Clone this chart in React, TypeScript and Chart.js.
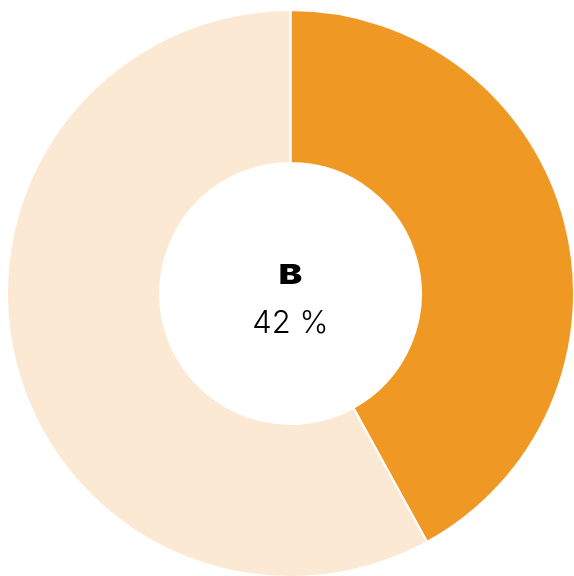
import React, { useEffect, useRef } from "react";
import { Chart, registerables } from "chart.js";

Chart.register(...registerables);

const labels = ["B", "Other"];
const values = [42, 58];
const colors = ["#F09824", "#FCE9D4"];
const centerTitle = "B";
const centerValue = "42 %";

export default function App() {
  const ref = useRef<HTMLCanvasElement | null>(null);
  useEffect(() => {
    if (!ref.current) return;
    const centerText = {
      id: "centerText",
      afterDraw(chart: any) {
        const { ctx } = chart;
        const meta = chart.getDatasetMeta(0);
        const arc = meta.data[0];
        const cx = arc.x;
        const cy = arc.y;
        ctx.save();
        ctx.fillStyle = "#000";
        ctx.textAlign = "center";
        ctx.textBaseline = "alphabetic";
        ctx.save();
        ctx.translate(cx, cy - 9.5);
        ctx.scale(1.3, 1);
        ctx.font = "900 27px Inter, 'DejaVu Sans', sans-serif";
        ctx.fillText(centerTitle, 0, 0);
        ctx.restore();
        ctx.font = "300 31px Inter, 'DejaVu Sans', sans-serif";
        ctx.fillText(centerValue, cx, cy + 39.5);
        ctx.restore();
      },
    };
    const chart = new Chart(ref.current, {
      type: "doughnut",
      data: {
        labels,
        datasets: [
          {
            data: values,
            backgroundColor: colors,
            borderColor: "#fff",
            borderWidth: 2,
            hoverOffset: 0,
            hoverBorderWidth: 2,
          },
        ],
      },
      options: {
        responsive: false,
        animation: false,
        cutout: "46%",
        plugins: {
          legend: { display: false },
          tooltip: { enabled: false },
        },
      },
      plugins: [centerText],
    });
    return () => chart.destroy();
  }, []);
  return (
    <div
      style={{
        position: "fixed",
        left: 0,
        top: 0,
        width: 574,
        height: 576,
        overflow: "hidden",
      }}
    >
      <canvas
        ref={ref}
        width={569}
        height={571}
        style={{ display: "block", position: "absolute", left: 6, top: 8 }}
      />
    </div>
  );
}
